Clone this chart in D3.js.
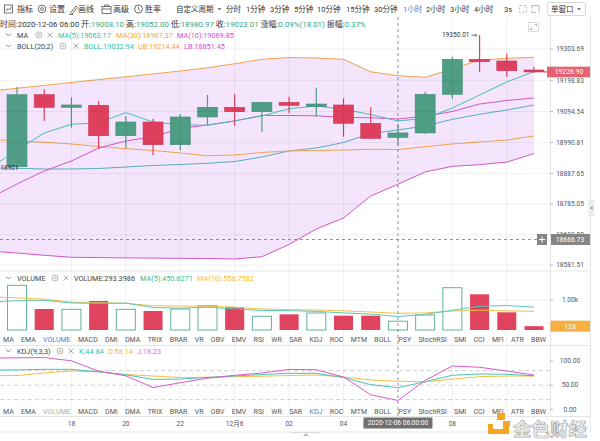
<!DOCTYPE html>
<html><head><meta charset="utf-8">
<script src="https://cdn.jsdelivr.net/npm/d3@7"></script>
<style>
html,body{margin:0;padding:0;background:#fff;overflow:hidden}
svg{display:block;font-family:Roboto,"Noto Sans CJK SC",sans-serif}
</style></head><body>
<svg id="c" width="600" height="441"></svg>
<script>
// ---------- data ----------
const hours = ["16","17","18","19","20","21","22","23","12月6","01","02","03","04","05","06","07","08","09","10","11"];
const openP  = [18910.2,19150.9,19108.8,19115.5,19013.8,19059.6,18983.7,19076.4,19108.8,19094.1,19125.5,19110.8,19116.5,19055.3,19008.10,19023.0,19152.2,19269.3,19263.6,19233.5];
const highP  = [19177.6,19169.0,19142.2,19129.8,19079.7,19070.7,19086.4,19149.9,19152.2,19127.0,19144.2,19174.3,19138.9,19108.8,19052.00,19160.9,19278.0,19350.01,19287.0,19244.5];
const lowP   = [18901.0,19064.0,19040.6,18969.4,18971.7,18948.3,18965.0,19049.6,19046.3,19027.2,19088.7,19077.4,19010.5,19003.0,18980.97,19019.5,19137.5,19227.8,19211.1,19224.0];
const closeP = [19150.9,19108.8,19116.5,19013.8,19059.6,18983.7,19076.4,19108.8,19094.1,19125.5,19115.5,19119.8,19055.3,19005.00,19023.01,19152.2,19269.3,19261.2,19231.1,19226.90];
const volume = [1490,700,690,967,690,633,700,810,767,457,523,567,477,477,293.3986,500,1410,1190,590,128];
// indicator series: first value belongs to the candle before the visible window
const ma5   = [18905,18966,19022.9,19051.9,19057.3,19091,19059.6,19050.3,19048.9,19063.6,19079.7,19104.1,19113.1,19102.1,19084.4,19063.17,19071.7,19106.4,19149.9,19193.4,19228.1];
const ma10  = [18805.5,18852.3,18895.8,18929.2,18972.7,18996.1,19010.5,19037.9,19049.6,19063,19081.4,19081.4,19080.4,19075,19073.7,19069.85,19078.7,19094.7,19119.8,19131.5,19139.9];
const ma30  = [19001.1,18996.1,18991.8,18986.1,18977.7,18970.4,18964.4,18956.0,18946.6,18949.3,18957.7,18962.7,18964.4,18966.0,18968.4,18967.37,18977.0,18986.1,18992.8,18999.4,19012.8];
const bollMid = [18905.8,18904.8,18902.5,18902.5,18904.2,18909.2,18914.2,18917.5,18921.5,18927.6,18942.6,18962.7,18972.7,18991.1,19021.2,19032.94,19046.2,19068.7,19085.4,19099.8,19116.5];
const bollUp  = [19162.3,19172.6,19182.0,19191.7,19201.4,19210.7,19220.4,19230.1,19240.8,19254.5,19269.3,19275.3,19273.6,19269.3,19227.5,19214.44,19209.1,19236.8,19266.9,19272.6,19276.0];
const bollLow = [18628.3,18621.6,18613.9,18607.3,18606.3,18605.2,18604.6,18603.9,18603.2,18601.6,18609.3,18650.1,18701.9,18738.7,18812.2,18851.45,18892.7,18911.4,18917.1,18925.5,18954.1];
const volMa5  = [930,980,990,900,890,895,750,728,757,705,650,645,620,570,530,450.8271,520,660,790,815,760];
const volMa10 = [1110,1070,1030,930,910,890,810,800,790,760,700,680,667,640,600,556.7582,570,630,660,640,620];
const kdjK = [81,81.6,82.8,82.8,77.5,71.5,62,62.5,66,68.9,72,74.5,74.5,65.8,51,44.84,57.1,70.5,73.1,72.5,69.5];
const kdjD = [69.5,70,75.2,79.3,77.8,72,68.9,65.8,66.3,67.5,68.5,70,71,66.9,60.7,58.14,57.1,62.5,67.5,68.9,68.9];
const kdjJ = [106,106.6,107,100.4,78.7,69.4,45,55,64.4,70.4,75.2,82.6,81.8,66.9,30,18.23,60,89.6,87,79.3,71];
const priceTicks = [19303.69,19198.83,19094.54,18990.81,18887.65,18785.05,18682.00,18581.51];
const volTicks = [1000];
const kdjTicks = [100,50,0];
const kdjDash = [80,50,20];
const indicatorNames = ["MA","EMA","VOLUME","MACD","DMI","DMA","TRIX","BRAR","VR","OBV","EMV","RSI","WR","SAR","KDJ","ROC","MTM","BOLL","PSY","StochRSI","SMI","CCI","MFI","ATR","BBW"];
const toolButtons = ["指标","设置","画线","高级","胜率"];
const periods = ["自定义周期","分时","1分钟","3分钟","5分钟","10分钟","15分钟","30分钟","1小时","2小时","3小时","4小时","3s"];
const hoverIdx = 14;
const hoverTime = "2020-12-06 06:00";
const crossPrice = 18666.73;
const lastPrice = 19226.90;
const maxLabel = "19350.01";
const minLabel = "18901";

// ---------- colours ----------
const GREEN="#4f9d85", RED="#de3f5d", TEAL="#45c0b2", BTEAL="#56adc2", ORANGE="#f0a34c", MAG="#d456c6";
const TXT="#444", AX="#555";

// ---------- scales ----------
const svg = d3.select("#c");
const PR = 550;
const x = d3.scaleLinear().domain([0,19]).range([17,534]);
const y = d3.scaleLinear().domain([18581.51,19303.69]).range([265,49]);
const yv = d3.scaleLinear().domain([0,1000]).range([330,300]);
const yk = d3.scaleLinear().domain([0,100]).range([409.3,361]);

const defs = svg.append("defs");
function clip(id,x0,y0,w,h){defs.append("clipPath").attr("id",id).append("rect").attr("x",x0).attr("y",y0).attr("width",w).attr("height",h);}
clip("cm",0,17,PR,254); clip("cv",0,271,PR,74); clip("ck",0,346,PR,70);

function T(g,xx,yy,s,o={}){
  const t=g.append("text").attr("x",xx).attr("y",yy).text(s)
   .attr("font-size",o.fs||7.3).attr("fill",o.c||TXT);
  if(o.a) t.attr("text-anchor",o.a);
  if(o.w) t.attr("font-weight",o.w);
  return t;
}

// ---------- toolbar ----------
const tb = svg.append("g");
const tbX=[17,49,78,113,145];
toolButtons.forEach((s,i)=>T(tb,tbX[i],12,s,{fs:8,c:"#333"}));
tb.append("rect").attr("x",4.5).attr("y",5).attr("width",8).attr("height",8).attr("fill","none").attr("stroke","#555").attr("stroke-width",0.8);
tb.append("path").attr("d","M6,11 L8,8.5 L9.5,10 L11.5,7").attr("fill","none").attr("stroke","#555").attr("stroke-width",0.8);
tb.append("circle").attr("cx",42).attr("cy",9).attr("r",3.8).attr("fill","none").attr("stroke","#555").attr("stroke-width",0.9);
tb.append("circle").attr("cx",42).attr("cy",9).attr("r",1.4).attr("fill","none").attr("stroke","#555").attr("stroke-width",0.8);
tb.append("path").attr("d","M70,13.5 L76,6 L77.5,7.3 L71.5,14.5 Z M69.5,14.5 h4").attr("fill","none").attr("stroke","#555").attr("stroke-width",0.8);
tb.append("rect").attr("x",102).attr("y",6.5).attr("width",9).attr("height",7).attr("fill","none").attr("stroke","#555").attr("stroke-width",0.8);
tb.append("path").attr("d","M104.5,6.5 v-1.5 h4 v1.5 M102,9 h9").attr("fill","none").attr("stroke","#555").attr("stroke-width",0.8);
tb.append("circle").attr("cx",138.5).attr("cy",9).attr("r",4).attr("fill","none").attr("stroke","#555").attr("stroke-width",0.9);
tb.append("path").attr("d","M138.5,6.5 v2.8 l1.8,1.2").attr("fill","none").attr("stroke","#555").attr("stroke-width",0.8);
const perX=[176,226,246,270,294,317,346,374,403,426,450,474,504];
periods.forEach((s,i)=>T(tb,perX[i],12,s,{fs:7.5,c: s==="1小时"?"#3d7fd6":"#333"}));
tb.append("path").attr("d","M217.5,8 l2,2.5 l2,-2.5 z").attr("fill","#777");
tb.append("rect").attr("x",519.5).attr("y",5.5).attr("width",7).attr("height",7).attr("fill","none").attr("stroke","#999").attr("stroke-width",0.7).attr("stroke-dasharray","2,2");
tb.append("path").attr("d","M532,5.5 h7 v7 M532,5.5 v3 M536,12.5 h-4 v-2").attr("fill","none").attr("stroke","#999").attr("stroke-width",0.7);
tb.append("rect").attr("x",547.5).attr("y",2.5).attr("width",38).attr("height",13).attr("rx",1.5).attr("fill","#fff").attr("stroke","#d8d8d8");
T(tb,551,12,"单窗口",{fs:7.5,c:"#333"});
tb.append("path").attr("d","M577,8 l2,2.5 l2,-2.5 z").attr("fill","#777");

// ---------- right side strip ----------
svg.append("line").attr("x1",590.5).attr("x2",590.5).attr("y1",17).attr("y2",432).attr("stroke","#e6e6e6");
svg.append("rect").attr("x",589).attr("y",200).attr("width",5).attr("height",16).attr("fill","#eee").attr("stroke","#ddd").attr("stroke-width",0.5);
svg.append("path").attr("d","M592.5,206 l-2,2 l2,2 z").attr("fill","#888");

// ---------- main panel ----------
const mp = svg.append("g").attr("clip-path","url(#cm)");
const xi = (d,i)=>x(i-1);
const area = d3.area().x(xi).y0((d,i)=>y(bollLow[i])).y1(d=>y(d));
mp.append("path").datum(bollUp).attr("d",area).attr("fill","#f4e5fd");

// grid
const grid = svg.append("g");
priceTicks.forEach(p=>grid.append("line").attr("x1",0).attr("x2",PR).attr("y1",y(p)).attr("y2",y(p)).attr("stroke","#000").attr("stroke-opacity",0.06));
const tickIdx = d3.range(2,20,2);
tickIdx.forEach(i=>{ if(i!==hoverIdx) grid.append("line").attr("x1",x(i)).attr("x2",x(i)).attr("y1",17).attr("y2",416).attr("stroke","#000").attr("stroke-opacity",0.06);});
grid.append("line").attr("x1",0).attr("x2",PR).attr("y1",yv(1000)).attr("y2",yv(1000)).attr("stroke","#000").attr("stroke-opacity",0.06);

const lineP = d3.line().x(xi).y(d=>y(d));
[[bollUp,ORANGE],[bollLow,MAG],[bollMid,BTEAL],[ma30,ORANGE],[ma10,MAG],[ma5,TEAL]].forEach(([arr,c])=>{
  mp.append("path").datum(arr).attr("d",lineP).attr("fill","none").attr("stroke",c).attr("stroke-width",1);
});

// candles
const cg = mp.append("g");
const bw = 20;
closeP.forEach((c,i)=>{
  const o=openP[i], up=c>=o, col= up?GREEN:RED;
  cg.append("line").attr("x1",x(i)).attr("x2",x(i)).attr("y1",y(highP[i])).attr("y2",y(lowP[i])).attr("stroke",col).attr("stroke-width",1.2);
  const top=y(Math.max(o,c)), bot=y(Math.min(o,c));
  cg.append("rect").attr("x",x(i)-bw/2).attr("y",top).attr("width",bw).attr("height",Math.max(1.5,bot-top)).attr("fill",col).attr("stroke",d3.color(col).darker(0.3)).attr("stroke-width",0.6);
});
// max / min markers
const iMax = d3.maxIndex(highP), iMin = d3.minIndex(lowP);
T(svg,x(iMax)-10,y(highP[iMax])+2.3,maxLabel,{fs:6.6,c:"#333",a:"end"});
svg.append("path").attr("d",`M${x(iMax)-8},${y(highP[iMax])} h5 m-1.5,-1.3 l1.5,1.3 l-1.5,1.3`).attr("fill","none").attr("stroke","#333").attr("stroke-width",0.7);
T(svg,0.5,y(lowP[iMin])+1,minLabel,{fs:6.4,c:"#333"});

// fullscreen icon
svg.append("rect").attr("x",528.5).attr("y",22.5).attr("width",10).attr("height",9).attr("fill","#fff").attr("stroke","#ccc").attr("stroke-width",0.7);
svg.append("path").attr("d","M530.5,29.5 v-2 M530.5,29.5 h2 M536.5,24.5 h-2 M536.5,24.5 v2").attr("stroke","#999").attr("stroke-width",0.7).attr("fill","none");

// ---------- volume panel ----------
const vp = svg.append("g").attr("clip-path","url(#cv)");
volume.forEach((v,i)=>{
  const up = closeP[i]>=openP[i];
  const r = vp.append("rect").attr("x",x(i)-bw/2+0.5).attr("y",yv(v)).attr("width",bw-1).attr("height",yv(0)-yv(v));
  if(up) r.attr("fill","#fff").attr("stroke","#5fb39a").attr("stroke-width",1);
  else r.attr("fill","#e0435d");
});
const lineV = d3.line().x(xi).y(d=>yv(d));
vp.append("path").datum(volMa10).attr("d",lineV).attr("fill","none").attr("stroke","#f3c24a").attr("stroke-width",1);
vp.append("path").datum(volMa5).attr("d",lineV).attr("fill","none").attr("stroke","#5cc6b6").attr("stroke-width",1);

// ---------- KDJ panel ----------
const kp = svg.append("g").attr("clip-path","url(#ck)");
kdjDash.forEach(v=>kp.append("line").attr("x1",0).attr("x2",PR).attr("y1",yk(v)).attr("y2",yk(v)).attr("stroke","#c4c4c4").attr("stroke-dasharray","4,3").attr("stroke-width",0.8));
const lineK = d3.line().x(xi).y(d=>yk(d));
[[kdjD,"#f3bd45"],[kdjK,"#4cc3b5"],[kdjJ,"#d85ad0"]].forEach(([arr,c])=>kp.append("path").datum(arr).attr("d",lineK).attr("fill","none").attr("stroke",c).attr("stroke-width",1));

// ---------- separators ----------
[[271,591],[345.5,591],[416.5,591],[432,550]].forEach(([yy,x2])=>svg.append("line").attr("x1",0).attr("x2",x2).attr("y1",yy).attr("y2",yy).attr("stroke","#e6e6e6"));
svg.append("line").attr("x1",PR+0.5).attr("x2",PR+0.5).attr("y1",17).attr("y2",416).attr("stroke","#e6e6e6");
svg.append("path").attr("d","M303,436 l3,-3 l3,3 z").attr("fill","#bbb");
svg.append("rect").attr("x",290).attr("y",432).attr("width",30).attr("height",1.2).attr("fill","#ddd");

// ---------- crosshair ----------
svg.append("line").attr("x1",x(hoverIdx)).attr("x2",x(hoverIdx)).attr("y1",17).attr("y2",417).attr("stroke","#777").attr("stroke-dasharray","3,3").attr("stroke-width",0.8);
svg.append("line").attr("x1",0).attr("x2",537).attr("y1",y(crossPrice)).attr("y2",y(crossPrice)).attr("stroke","#777").attr("stroke-dasharray","3,3").attr("stroke-width",0.8);

// ---------- right axes ----------
const ax = svg.append("g");
priceTicks.forEach(p=>{
  ax.append("line").attr("x1",PR).attr("x2",PR+3).attr("y1",y(p)).attr("y2",y(p)).attr("stroke","#bbb");
  T(ax,570,y(p)+2.3,p.toFixed(2),{fs:6.6,c:AX,a:"middle"});
});
volTicks.forEach(v=>{ax.append("line").attr("x1",PR).attr("x2",PR+3).attr("y1",yv(v)).attr("y2",yv(v)).attr("stroke","#bbb");
  T(ax,570,yv(v)+2.3,(v/1000).toFixed(2)+"k",{fs:6.6,c:AX,a:"middle"});});
kdjTicks.forEach(v=>{ax.append("line").attr("x1",PR).attr("x2",PR+3).attr("y1",yk(v)).attr("y2",yk(v)).attr("stroke","#bbb");
  T(ax,570,yk(v)+2.3,v.toFixed(2),{fs:6.6,c:AX,a:"middle"});});
// last price label
svg.append("line").attr("x1",x(19)+bw/2).attr("x2",PR).attr("y1",y(lastPrice)).attr("y2",y(lastPrice)).attr("stroke","#de3f5d").attr("stroke-width",1);
svg.append("rect").attr("x",PR-3).attr("y",y(lastPrice)-5.3).attr("width",43).attr("height",10.6).attr("fill","#e8616e");
T(svg,569,y(lastPrice)+2.4,lastPrice.toFixed(2),{fs:6.8,c:"#fff",a:"middle"});
// crosshair price label
svg.append("rect").attr("x",537).attr("y",y(crossPrice)-5.5).attr("width",10).attr("height",11).attr("fill","#858585");
svg.append("path").attr("d",`M539,${y(crossPrice)} h6 M542,${y(crossPrice)-3} v6`).attr("stroke","#fff").attr("stroke-width",1);
svg.append("rect").attr("x",PR+1).attr("y",y(crossPrice)-5.5).attr("width",39).attr("height",11).attr("fill","#858585");
T(svg,570,y(crossPrice)+2.4,crossPrice.toFixed(2),{fs:6.8,c:"#fff",a:"middle"});
// last volume label
const lastV = volume[19];
svg.append("rect").attr("x",PR+0.5).attr("y",yv(lastV)-5.5).attr("width",39.5).attr("height",11).attr("fill","#f5b041");
T(svg,570,yv(lastV)+2.4,String(Math.round(lastV)),{fs:6.8,c:"#fff",a:"middle"});

// ---------- time axis ----------
tickIdx.forEach(i=>{ if(i!==hoverIdx) T(svg,x(i),425.5,hours[i],{fs:6.6,c:AX,a:"middle"}); });
svg.append("rect").attr("x",x(hoverIdx)-34.5).attr("y",417.5).attr("width",69).attr("height",11).attr("fill","#707070");
T(svg,x(hoverIdx),425.4,hoverTime+":00",{fs:6.6,c:"#fff",a:"middle"});

// ---------- indicator tab rows ----------
function tabRow(yy,active,dim){
  const g=svg.append("g");
  const ts = indicatorNames.map(n=>T(g,0,yy,n,{fs:7,c: n===active?"#3d82d8":(n===dim?"#aaa":"#555")}));
  const ws = ts.map(t=>t.node().getComputedTextLength());
  const gap = (543 - d3.sum(ws))/(ws.length-1);
  let cx=3;
  ts.forEach((t,i)=>{t.attr("x",cx); cx+=ws[i]+gap;});
}
tabRow(341.5,"VOLUME",null);
tabRow(413.5,"KDJ","VOLUME");

// ---------- headers ----------
const green = "#36a77f";
const h2 = svg.append("text").attr("x",0).attr("y",26.8).attr("font-size",7.9).attr("fill","#333");
const i = hoverIdx;
const prevC = closeP[i-1];
const chg = closeP[i]-prevC;
[["时间:"+hoverTime,null],[" 开:",null],[openP[i].toFixed(2),green],[" 高:",null],[highP[i].toFixed(2),green],[" 低:",null],[lowP[i].toFixed(2),green],
 [" 收:",null],[closeP[i].toFixed(2),green],[" 涨幅:",null],[(chg/prevC*100).toFixed(2)+"%("+chg.toFixed(2)+")",green],[" 振幅:",null],[((highP[i]-lowP[i])/prevC*100).toFixed(2)+"%",green]]
 .forEach(([s,c])=>{const t=h2.append("tspan").text(s); if(c) t.attr("fill",c);});

function chevron(yy){svg.append("path").attr("d",`M6,${yy-1.5} l2.5,2.5 l2.5,-2.5`).attr("fill","none").attr("stroke","#666").attr("stroke-width",0.8);}
function gear(cx,yy){svg.append("circle").attr("cx",cx).attr("cy",yy).attr("r",3).attr("fill","none").attr("stroke","#aaa").attr("stroke-width",0.8);
  svg.append("circle").attr("cx",cx).attr("cy",yy).attr("r",1.1).attr("fill","none").attr("stroke","#aaa").attr("stroke-width",0.7);}
function cross(cx,yy){svg.append("path").attr("d",`M${cx-2.5},${yy-2.5} l5,5 M${cx+2.5},${yy-2.5} l-5,5`).attr("stroke","#999").attr("stroke-width",0.8);}
function header(yy,name,gx,xx,items){
  chevron(yy); T(svg,17,yy+2.6,name,{c:TXT}); gear(gx,yy); cross(xx,yy);
  items.forEach(([px,s,c])=>T(svg,px,yy+2.6,s,{c}));
}
const hi = hoverIdx+1;
header(35,"MA",39,50,[[58,"MA(5):"+ma5[hi].toFixed(2),"#2fbfa6"],[116,"MA(30):"+ma30[hi].toFixed(2),"#f5a623"],[177,"MA(10):"+ma10[hi].toFixed(2),"#d24fcf"]]);
header(46,"BOLL(20,2)",63,76,[[84,"BOLL:"+bollMid[hi].toFixed(2),"#2fbfa6"],[138,"UB:"+bollUp[hi].toFixed(2),"#f5a623"],[184,"LB:"+bollLow[hi].toFixed(2),"#d24fcf"]]);
header(278,"VOLUME",55,66,[[74,"VOLUME:"+volume[hoverIdx].toFixed(4),"#444"],[140,"MA(5):"+volMa5[hi].toFixed(4),"#2fbfa6"],[197,"MA(10):"+volMa10[hi].toFixed(4),"#f5c030"]]);
header(351,"KDJ(9,3,3)",60,71,[[79,"K:"+kdjK[hi].toFixed(2),"#2fbfa6"],[108,"D:"+kdjD[hi].toFixed(2),"#f5b830"],[137,"J:"+kdjJ[hi].toFixed(2),"#e06ae0"]]);

// ---------- watermark ----------
const wm = svg.append("g");
wm.append("rect").attr("x",497).attr("y",413).attr("width",8).attr("height",7).attr("fill","#f5a623");
wm.append("path").attr("d","M488,424 h5 v5 h10 v-8 h6 v13 h-21 z").attr("fill","#f5a623");
wm.append("text").attr("x",513).attr("y",436).text("金色财经").attr("font-size",18.5).attr("font-weight","bold")
  .attr("fill","#f4f4f4").attr("stroke","#a8a8a8").attr("stroke-width",0.7).attr("font-family","'Noto Sans CJK SC',sans-serif");
</script>
</body></html>
